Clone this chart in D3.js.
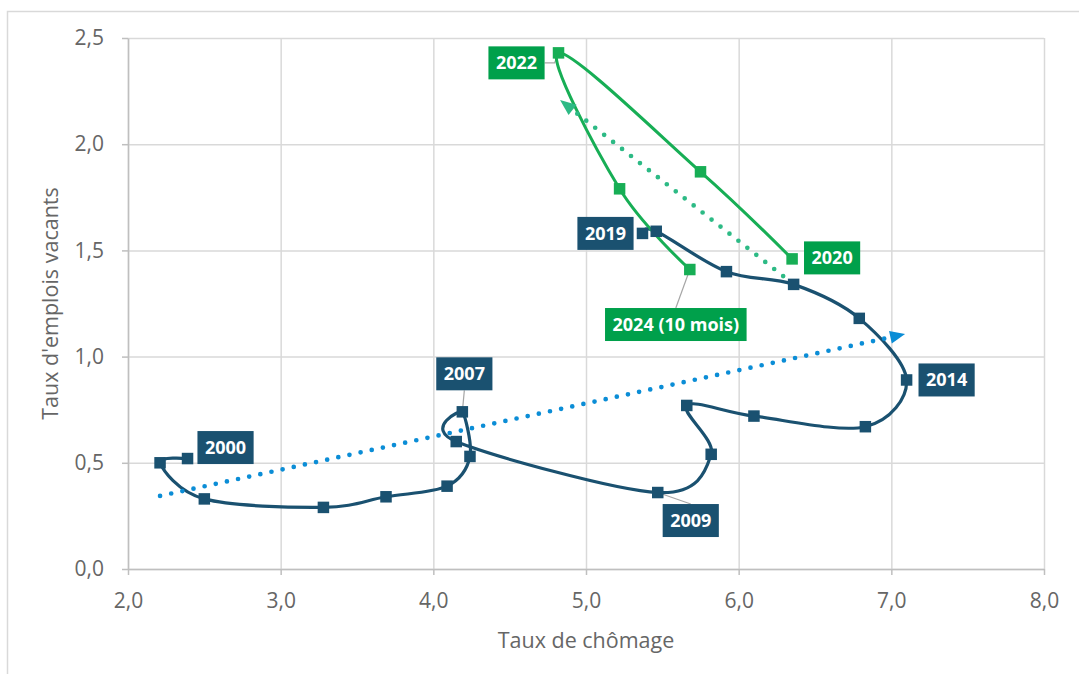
<!DOCTYPE html>
<html>
<head>
<meta charset="utf-8">
<script src="https://cdn.jsdelivr.net/npm/d3@7"></script>
<style>
  body { margin: 0; background: #fff; }
  svg { display: block; font-family: "Open Sans", sans-serif; }
</style>
</head>
<body>
<svg id="chart"></svg>
<script>
// 2000-2019 (bleu foncé)
const yearsA = [2000, 2001, 2002, 2003, 2004, 2005, 2006, 2007, 2008, 2009,
                2010, 2011, 2012, 2013, 2014, 2015, 2016, 2017, 2018, 2019];
const chomageA = [2.39, 2.21, 2.50, 3.28, 3.69, 4.09, 4.24, 4.19, 4.15, 5.47,
                  5.82, 5.66, 6.10, 6.83, 7.10, 6.79, 6.36, 5.92, 5.46, 5.37];
const vacantsA = [0.52, 0.50, 0.33, 0.29, 0.34, 0.39, 0.53, 0.74, 0.60, 0.36,
                  0.54, 0.77, 0.72, 0.67, 0.89, 1.18, 1.34, 1.40, 1.59, 1.58];

// 2020-2024 (vert)
const yearsB = [2020, 2021, 2022, 2023, 2024];
const chomageB = [6.35, 5.75, 4.82, 5.22, 5.68];
const vacantsB = [1.46, 1.87, 2.43, 1.79, 1.41];

// tendances linéaires (début, fin = pointe de flèche)
const trendA_x = [2.21, 7.09];
const trendA_y = [0.344, 1.106];
const trendB_x = [6.35, 4.83];
const trendB_y = [1.346, 2.208];

const xTicks = [2, 3, 4, 5, 6, 7, 8];
const yTicks = [0, 0.5, 1, 1.5, 2, 2.5];

const labelYearsA = [2000, 2007, 2009, 2014, 2019];
const labelYearsB = [2020, 2022, 2024];
const labelTexts = { 2000: "2000", 2007: "2007", 2009: "2009", 2014: "2014", 2019: "2019",
                     2020: "2020", 2022: "2022", 2024: "2024 (10 mois)" };

// placement des étiquettes (px, par rapport au point)
const labelOffset = { 2000: [38, -11], 2007: [2, -38], 2009: [33, 28], 2014: [40, 0],
                      2019: [-37, 0], 2020: [40, -1], 2022: [-42, 10], 2024: [-14, 55] };

const navy = "#1a5170", green = "#17ae55", labelGreen = "#00a04b";
const blueDots = "#0b8dd6", greenDots = "#2dba85";

const W = 1079, H = 674;
const svg = d3.select("#chart").attr("width", W).attr("height", H);

// cadre
svg.append("rect")
   .attr("x", 7.5).attr("y", 11.5)
   .attr("width", 1100).attr("height", 700)
   .attr("fill", "none").attr("stroke", "#d9d9d9").attr("stroke-width", 1.5);

const x = d3.scaleLinear().domain([2, 8]).range([128, 1044]);
const y = d3.scaleLinear().domain([0, 2.5]).range([569, 38]);
const fmt = d => d3.format(".1f")(d).replace(".", ",");

// grille
svg.append("g")
   .attr("transform", "translate(0," + y(0) + ")")
   .call(d3.axisBottom(x).tickValues(xTicks).tickSize(-(y(0) - y(2.5))).tickFormat(""))
   .call(g => g.select(".domain").remove())
   .call(g => g.selectAll("line").attr("stroke", "#d9d9d9").attr("stroke-width", 1.5));
svg.append("g")
   .attr("transform", "translate(" + x(2) + ",0)")
   .call(d3.axisLeft(y).tickValues(yTicks).tickSize(-(x(8) - x(2))).tickFormat(""))
   .call(g => g.select(".domain").remove())
   .call(g => g.selectAll("line").attr("stroke", "#d9d9d9").attr("stroke-width", 1.5));

// axes
const xAxis = svg.append("g")
   .attr("transform", "translate(0," + y(0) + ")")
   .call(d3.axisBottom(x).tickValues(xTicks).tickSize(6).tickSizeOuter(0).tickPadding(18).tickFormat(fmt));
const yAxis = svg.append("g")
   .attr("transform", "translate(" + x(2) + ",0)")
   .call(d3.axisLeft(y).tickValues(yTicks).tickSize(6).tickSizeOuter(0).tickPadding(18).tickFormat(fmt));
[xAxis, yAxis].forEach(a => {
  a.select(".domain").attr("stroke", "#bfbfbf").attr("stroke-width", 1.5);
  a.selectAll(".tick line").attr("stroke", "#bfbfbf").attr("stroke-width", 1.5);
  a.selectAll(".tick text").attr("fill", "#666").style("font-size", "21px")
   .style("font-family", "'Open Sans', sans-serif");
});

svg.append("text")
   .attr("x", (x(2) + x(8)) / 2).attr("y", 648)
   .attr("text-anchor", "middle").attr("fill", "#666").style("font-size", "21.5px")
   .text("Taux de chômage");
svg.append("text")
   .attr("transform", "translate(58," + (y(0) + y(2.5)) / 2 + ") rotate(-90)")
   .attr("text-anchor", "middle").attr("fill", "#666").style("font-size", "21.5px")
   .text("Taux d'emplois vacants");

// trajectoires lissées
const ptsA = yearsA.map((yr, i) => ({ year: yr, cx: chomageA[i], vy: vacantsA[i] }));
const ptsB = yearsB.map((yr, i) => ({ year: yr, cx: chomageB[i], vy: vacantsB[i] }));
const line = d3.line().x(d => x(d.cx)).y(d => y(d.vy)).curve(d3.curveCardinal.tension(0));

svg.append("path").datum(ptsA)
   .attr("fill", "none").attr("stroke", navy).attr("stroke-width", 3.2).attr("d", line);
svg.append("path").datum(ptsB)
   .attr("fill", "none").attr("stroke", green).attr("stroke-width", 3).attr("d", line);

// tendances en pointillé avec flèche
function trend(xs, ys, color, headLen, headW) {
  const x0 = x(xs[0]), y0 = y(ys[0]), x1 = x(xs[1]), y1 = y(ys[1]);
  const len = Math.hypot(x1 - x0, y1 - y0);
  const ux = (x1 - x0) / len, uy = (y1 - y0) / len;
  const bx = x1 - ux * headLen, by = y1 - uy * headLen;
  svg.append("line")
     .attr("x1", x0).attr("y1", y0).attr("x2", bx - ux * 3).attr("y2", by - uy * 3)
     .attr("stroke", color).attr("stroke-width", 4.7)
     .attr("stroke-linecap", "round").attr("stroke-dasharray", "0,11.4");
  const px = -uy, py = ux;
  svg.append("polygon")
     .attr("points", [[x1, y1], [bx + px * headW / 2, by + py * headW / 2],
                      [bx - px * headW / 2, by - py * headW / 2]].map(p => p.join(",")).join(" "))
     .attr("fill", color);
}
trend(trendA_x, trendA_y, blueDots, 15, 13);
trend(trendB_x, trendB_y, greenDots, 16, 13);

// marqueurs
const ms = 11.5;
svg.selectAll("rect.ma").data(ptsA).enter().append("rect")
   .attr("x", d => x(d.cx) - ms / 2).attr("y", d => y(d.vy) - ms / 2)
   .attr("width", ms).attr("height", ms).attr("fill", navy);
svg.selectAll("rect.mb").data(ptsB).enter().append("rect")
   .attr("x", d => x(d.cx) - ms / 2).attr("y", d => y(d.vy) - ms / 2)
   .attr("width", ms).attr("height", ms).attr("fill", green);

// étiquettes
function label(p, fill) {
  const off = labelOffset[p.year];
  const px = x(p.cx), py = y(p.vy);
  const cx = px + off[0], cy = py + off[1];
  const g = svg.append("g");
  const t = g.append("text")
     .attr("x", cx).attr("y", cy).attr("dy", "0.35em")
     .attr("text-anchor", "middle").attr("fill", "#fff")
     .style("font-size", "18px").style("font-weight", 700)
     .text(labelTexts[p.year]);
  const w = t.node().getComputedTextLength() + 15, h = 33;
  const bx0 = cx - w / 2, by0 = cy - h / 2;
  // trait de rappel
  let pts;
  if (py >= by0 && py <= by0 + h) {
    const lx = px > cx ? bx0 + w : bx0;
    const dir = px > cx ? 1 : -1;
    pts = [[lx, cy], [px - dir * 4, cy], [px, py]];
  } else {
    pts = [[cx, py < by0 ? by0 : by0 + h], [px, py]];
  }
  const d0 = Math.hypot(pts[0][0] - px, pts[0][1] - py);
  if (d0 > 15) {
    svg.insert("polyline", "g")
       .attr("points", pts.map(q => q.join(",")).join(" "))
       .attr("fill", "none").attr("stroke", "#a6a6a6").attr("stroke-width", 1.2);
  }
  g.insert("rect", "text")
   .attr("x", bx0).attr("y", by0).attr("width", w).attr("height", h).attr("fill", fill);
}
ptsA.filter(p => labelYearsA.includes(p.year)).forEach(p => label(p, navy));
ptsB.filter(p => labelYearsB.includes(p.year)).forEach(p => label(p, labelGreen));
</script>
</body>
</html>
